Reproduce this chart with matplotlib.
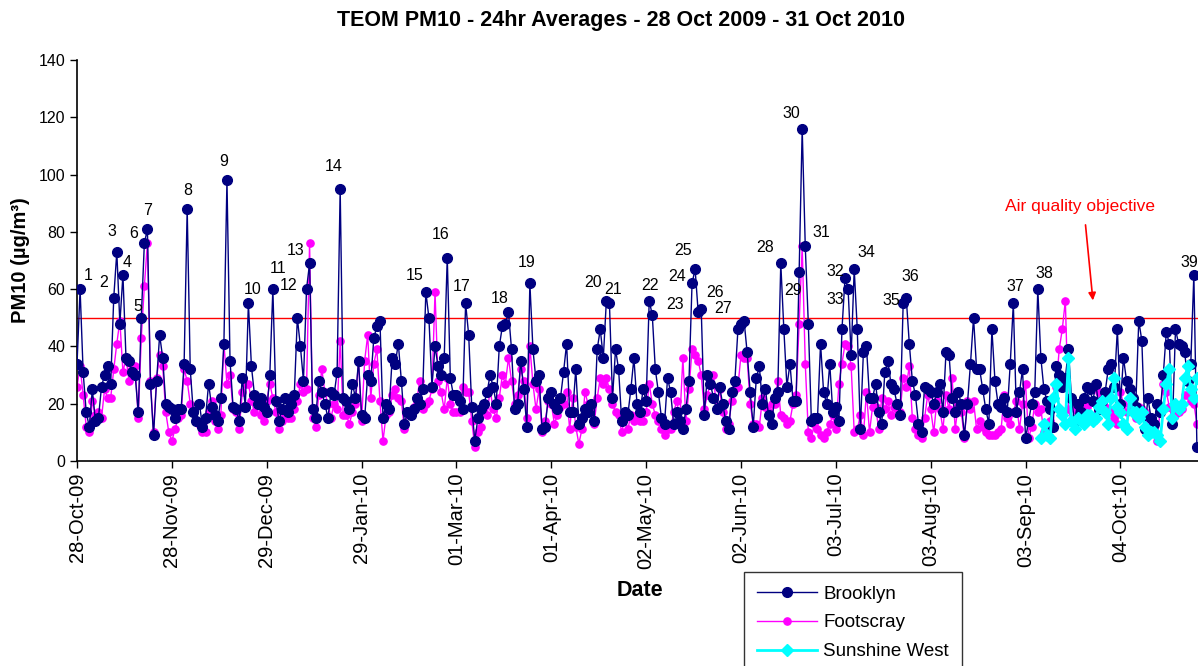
import pandas as pd
import matplotlib
matplotlib.use("Agg")
import matplotlib.pyplot as plt
import matplotlib.dates as mdates

plt.rcParams['font.family'] = ['Liberation Sans', 'DejaVu Sans']

# daily 24hr averages, starting 28 Oct 2009
brooklyn = [
    34, 60, 31, 17, 12, 25, 14, 15, 26, 30, 33, 27, 57, 73, 48, 65, 36, 35, 31, 30,
    17, 50, 76, 81, 27, 9, 28, 44, 36, 20,
    19, 18, 15, 18, 18, 34, 88, 32, 17, 14, 20, 12, 15, 27, 19, 16, 14, 22, 41, 98,
    35, 19, 18, 14, 29, 19, 55, 33, 23, 20, 22, 19, 17, 30, 60,
    21, 14, 18, 22, 17, 20, 23, 50, 40, 28, 60, 69, 18, 15, 28, 24, 20, 15, 24, 23,
    31, 95, 22, 21, 18, 27, 22, 35, 16, 15, 30,
    28, 43, 47, 49, 15, 20, 18, 36, 34, 41, 28, 13, 17, 16, 18, 22, 20, 25, 59, 50,
    26, 40, 33, 30, 36, 71, 29, 23, 23, 21, 18, 55, 44, 19,
    7, 15, 18, 20, 24, 30, 26, 20, 40, 47, 48, 52, 39, 18, 20, 35, 25, 12, 62, 39,
    28, 30, 11, 12, 22, 24, 20, 18, 22, 31, 41, 17, 17,
    32, 13, 15, 18, 17, 20, 14, 39, 46, 36, 56, 55, 22, 39, 32, 14, 17, 16, 25, 36,
    20, 17, 25, 21, 56, 51, 32, 24, 15, 13, 29, 24, 13,
    17, 14, 11, 18, 28, 62, 67, 52, 53, 16, 30, 27, 22, 18, 26, 20, 14, 11, 24, 28,
    46, 48, 49, 38, 24, 12, 29, 33, 20, 25, 16, 13, 22,
    24, 69, 46, 26, 34, 21, 21, 66, 116, 75, 48, 14, 15, 15, 41, 24, 20, 34, 17, 19,
    14, 46, 64, 60, 37, 67, 46, 11, 38, 40, 22, 22,
    27, 17, 13, 31, 35, 27, 25, 20, 16, 55, 57, 41, 28, 23, 13, 10, 26, 25, 24, 20,
    24, 27, 17, 38, 37, 22, 17, 24, 20, 9, 20, 34,
    50, 32, 32, 25, 18, 13, 46, 28, 20, 19, 22, 17, 34, 55, 17, 24, 32, 8, 14, 20,
    24, 60, 36, 25, 21, 18, 12, 33, 30, 26, 29, 39,
    22, 14, 20, 17, 22, 26, 25, 21, 27, 18, 21, 24, 32, 34, 26, 46, 20, 36, 28, 25,
    22, 19, 49, 42, 11, 22, 15, 13, 20, 17, 30, 45, 41, 13, 46, 41, 40, 38, 28, 34,
    65, 5,
]

footscray = [
    26, 33, 23, 12, 10, 21, 16, 17, 15, 25, 22, 22, 32, 41, 49, 31, 36, 28, 32, 33,
    15, 43, 61, 76, 28, 10, 29, 37, 33, 17, 10, 7, 11,
    15, 16, 32, 28, 20, 17, 14, 13, 10, 10, 17, 21, 14, 11, 16, 41, 27, 30, 18, 17,
    11, 24, 27, 27, 21, 17, 20, 16, 14, 21, 27, 22,
    17, 11, 14, 16, 15, 15, 18, 21, 27, 24, 25, 76, 15, 12, 23, 32, 24, 20, 15, 20,
    18, 42, 16, 16, 13, 17, 20, 35, 14, 35, 44, 22, 34,
    39, 21, 7, 16, 17, 23, 25, 22, 21, 11, 17, 16, 19, 21, 28, 18, 20, 21, 25, 59,
    28, 24, 18, 29, 20, 17, 17, 17, 26, 24,
    24, 14, 5, 10, 12, 19, 16, 25, 18, 15, 22, 30, 27, 36, 28, 20, 23, 32, 28, 15,
    40, 27, 18, 25, 10, 14, 21, 20, 13, 16, 19, 20, 24, 11, 22,
    12, 6, 11, 24, 20, 17, 13, 22, 29, 27, 29, 25, 20, 17, 16, 10, 15, 11, 16, 14,
    16, 14, 14, 17, 27, 20, 16, 14, 11, 9, 11, 11, 17,
    21, 14, 36, 14, 25, 39, 37, 35, 30, 18, 23, 27, 30, 18, 25, 17, 11, 13, 21, 25,
    26, 37, 36, 36, 20, 13, 13, 12, 22, 19, 17, 20, 20,
    28, 16, 15, 13, 14, 20, 23, 48, 75, 34, 10, 8, 13, 11, 9, 8, 10, 13, 16, 11,
    27, 34, 41, 40, 33, 10, 11, 16, 9, 24, 10, 19,
    19, 11, 22, 18, 21, 16, 19, 18, 17, 29, 26, 33, 15, 11, 9, 8, 15, 23, 18, 10,
    21, 18, 11, 23, 18, 29, 11, 20, 17, 8, 21, 18, 21,
    11, 14, 12, 10, 9, 9, 9, 10, 11, 23, 15, 13, 17, 21, 11, 20, 27, 8, 12, 20,
    17, 18, 10, 12, 14, 22, 26, 39, 46, 56, 18, 14,
    18, 17, 19, 20, 19, 16, 14, 20, 24, 21, 19, 18, 17, 15, 13, 24, 20, 17, 22, 18,
    15, 19, 18, 17, 14, 12, 10, 7, 18, 27, 24, 19, 14, 16, 17, 18, 23, 23, 21, 20,
    13,
]

# Sunshine West starts 08 Sep 2010
sunshine_west = [
    8, 13, 9, 8, 22, 27, 18, 16, 13, 36, 14, 11, 15, 14, 13, 16, 16, 14, 15, 19,
    21, 17, 13, 22, 29, 19, 17, 13, 11, 22, 17, 17, 15, 17, 12, 9, 10, 10, 9, 7,
    18, 27, 32, 15, 20, 18, 20, 29, 33, 25, 22, 29,
]

objective = 50

# exceedance numbers: (label, days after 28 Oct 2009, PM10 level of text)
peak_labels = [
    ("1", 3.7, 64.9), ("2", 8.6, 62.2), ("3", 11.3, 80.3), ("4", 16.4, 69.2),
    ("5", 20.0, 53.9), ("6", 18.4, 79.5), ("7", 23.0, 87.6), ("8", 36.1, 94.3),
    ("9", 47.8, 104.7), ("10", 57.4, 59.9), ("11", 65.8, 67.3), ("12", 69.1, 61.1),
    ("13", 71.3, 73.6), ("14", 83.8, 102.7), ("15", 110.2, 64.9), ("16", 118.9, 79.2),
    ("17", 125.8, 60.8), ("18", 138.1, 56.8), ("19", 146.8, 69.2), ("20", 168.6, 62.2),
    ("21", 175.1, 59.9), ("22", 187.1, 61.4), ("23", 195.5, 54.8), ("24", 196.0, 64.3),
    ("25", 198.2, 73.4), ("26", 208.6, 58.7), ("27", 211.1, 53.3), ("28", 224.9, 74.5),
    ("29", 234.0, 59.7), ("30", 233.3, 121.4), ("31", 243.4, 79.7), ("32", 247.8, 66.1),
    ("33", 247.8, 56.4), ("34", 257.9, 72.7), ("35", 266.0, 56.2), ("36", 272.3, 64.3),
    ("37", 306.6, 60.8), ("38", 316.1, 65.5), ("39", 363.6, 69.2),
]

start = pd.Timestamp('2009-10-28')
dates = pd.date_range(start, periods=len(brooklyn), freq='D')
sw_dates = pd.date_range('2010-09-08', periods=len(sunshine_west), freq='D')

fig = plt.figure(figsize=(11.98, 6.66), dpi=100)
ax = fig.add_axes([0.0643, 0.3078, 0.9399, 0.6021])

ax.axhline(objective, color='red', lw=1, zorder=1)

ax.plot(dates, footscray, color='#FF00FF', lw=1, marker='o', ms=5.2,
        mec='#FF00FF', mfc='#FF00FF', label='Footscray', zorder=2)
ax.plot(dates, brooklyn, color='#000080', lw=1, marker='o', ms=7,
        mec='#000080', mfc='#000080', label='Brooklyn', zorder=3)
ax.plot(sw_dates, sunshine_west, color='#00FFFF', lw=2, marker='D', ms=6.5,
        mec='#00FFFF', mfc='#00FFFF', label='Sunshine West', zorder=4)

for txt, d, v in peak_labels:
    ax.text(start + pd.Timedelta(days=d), v, txt, ha='center', va='center',
            fontsize=11.5, color='black', zorder=5)

ax.annotate('', xy=(start + pd.Timedelta(days=332.1), 55.1),
            xytext=(start + pd.Timedelta(days=329.5), 83.4),
            arrowprops=dict(arrowstyle='-|>', color='red', lw=1.2, mutation_scale=11))
ax.text(start + pd.Timedelta(days=327.9), 88.7, 'Air quality objective',
        color='red', fontsize=12.5, ha='center', va='center')

ax.set_xlim(start, pd.Timestamp('2010-10-31'))
ax.set_ylim(0, 140)
ax.set_yticks(range(0, 141, 20))
ax.set_xticks(pd.date_range(start, periods=12, freq='31D'))
ax.xaxis.set_major_formatter(mdates.DateFormatter('%d-%b-%y'))
plt.setp(ax.get_xticklabels(), rotation=90, fontsize=14.5)
plt.setp(ax.get_yticklabels(), fontsize=11.5)
ax.tick_params(axis='both', direction='out', length=5, width=1)

for s in ['top', 'right']:
    ax.spines[s].set_visible(False)
ax.spines['left'].set_linewidth(1.2)
ax.spines['bottom'].set_linewidth(1.2)

fig.suptitle('TEOM PM10 - 24hr Averages - 28 Oct 2009 - 31 Oct 2010',
             x=0.518, y=0.985, fontsize=15.5, fontweight='bold')
ax.set_ylabel('PM10 (µg/m³)', fontsize=14.5, fontweight='bold', labelpad=6)
fig.text(0.534, 0.114, 'Date', fontsize=15.5, fontweight='bold', ha='center', va='center')

h, l = ax.get_legend_handles_labels()
order = [1, 0, 2]
leg = fig.legend([h[i] for i in order], [l[i] for i in order],
                 loc='upper left', bbox_to_anchor=(0.621, 0.141), borderaxespad=0,
                 fontsize=13.5, frameon=True, fancybox=False, handlelength=3.2,
                 labelspacing=0.62, borderpad=0.72, handletextpad=0.3)
leg.get_frame().set_edgecolor('black')
leg.get_frame().set_linewidth(1)

fig.savefig('out.png', dpi=100)
